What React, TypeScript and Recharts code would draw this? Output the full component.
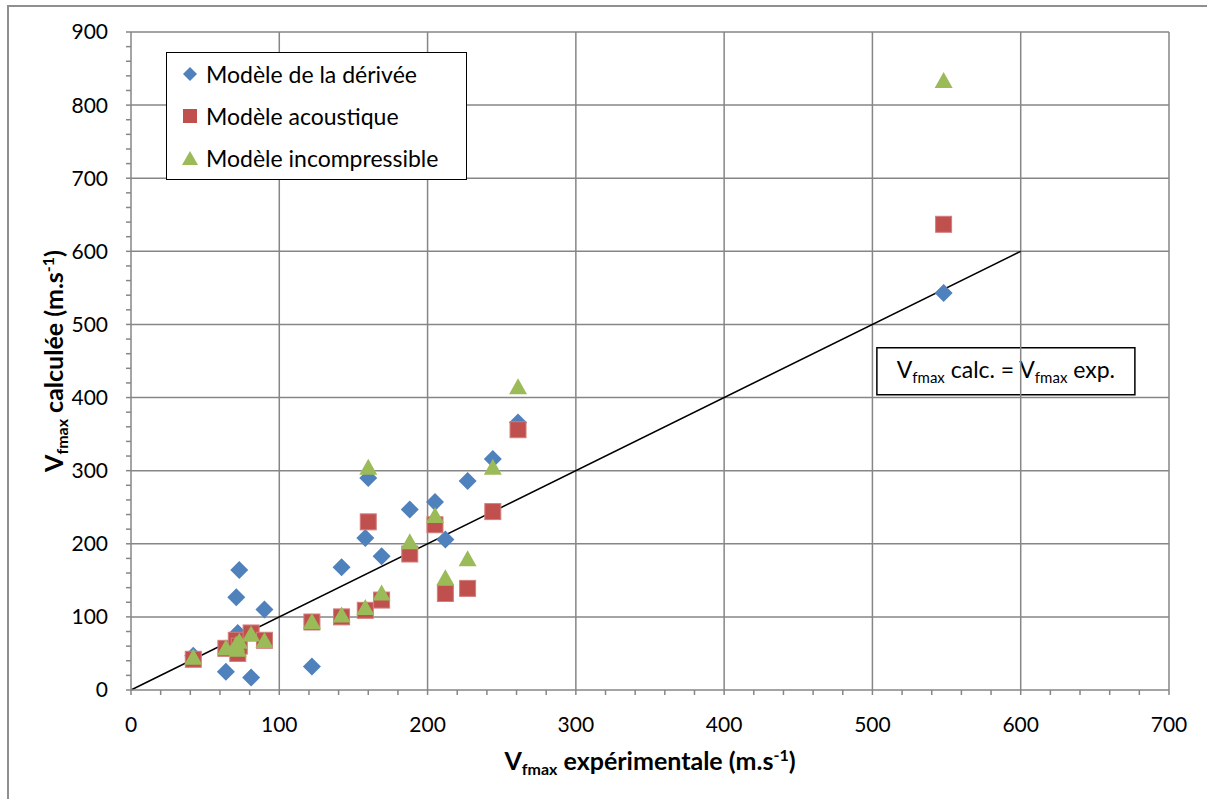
import React from 'react';
import {
  ScatterChart, Scatter, XAxis, YAxis, ReferenceLine, ReferenceArea, Legend, Label,
} from 'recharts';

// valeurs
const vExp = [42, 64, 71, 72, 73, 81, 90, 122, 142, 158, 160, 169, 188, 205, 212, 227, 244, 261, 548];
const vDerivee = [47, 25, 127, 78, 164, 17, 110, 32, 168, 208, 290, 183, 247, 257, 206, 286, 316, 366, 543];
const vAcoustique = [42, 57, 68, 50, 60, 78, 68, 93, 100, 109, 230, 123, 186, 226, 132, 139, 244, 356, 637];
const vIncompressible = [44, 57, 62, 55, 66, 76, 67, 93, 102, 112, 304, 132, 202, 238, 153, 179, 304, 414, 833];

const xMajor = [100, 200, 300, 400, 500, 600, 700];
const yMajor = [100, 200, 300, 400, 500, 600, 700, 800, 900];
const xTicks = Array.from({ length: 36 }, (_, i) => i * 20);
const yTicks = Array.from({ length: 46 }, (_, i) => i * 20);

const seriesNames = ['Modèle de la dérivée', 'Modèle acoustique', 'Modèle incompressible'];

const BLUE = '#4F81BD';
const RED = '#C0504D';
const GREEN = '#9BBB59';
const GRID = '#868686';
const FONT = 'Lato, "Liberation Sans", sans-serif';

const toPoints = (ys: number[]) => vExp.map((x, i) => ({ x, y: ys[i] }));

const Diamond = (p: any) => (
  <polygon
    points={`${p.cx},${p.cy - 9} ${p.cx + 9},${p.cy} ${p.cx},${p.cy + 9} ${p.cx - 9},${p.cy}`}
    fill={BLUE}
  />
);
const Square = (p: any) => (
  <rect x={p.cx - 8} y={p.cy - 8} width={16} height={16} fill={RED} stroke="#D27E7C" strokeWidth={1} />
);
const Triangle = (p: any) => (
  <polygon
    points={`${p.cx},${p.cy - 9} ${p.cx + 9},${p.cy + 7} ${p.cx - 9},${p.cy + 7}`}
    fill={GREEN}
  />
);

const LegendBox = () => {
  const icons = [
    <polygon key="d" points="8,1 15,8 8,15 1,8" fill={BLUE} />,
    <rect key="s" x={1} y={1} width={14} height={14} fill={RED} />,
    <polygon key="t" points="8,1 16,15 0,15" fill={GREEN} />,
  ];
  return (
    <div
      style={{
        width: 301, height: 128, boxSizing: 'border-box', border: '1px solid #000', background: '#fff',
        paddingTop: 0, fontFamily: FONT, fontSize: 23, color: '#000',
      }}
    >
      {seriesNames.map((n, i) => (
        <div key={n} style={{ height: 42, display: 'flex', alignItems: 'center' }}>
          <svg width={16} height={16} style={{ marginLeft: 15, marginRight: 8 }}>{icons[i]}</svg>
          <span>{n}</span>
        </div>
      ))}
    </div>
  );
};

const XTitle = ({ viewBox }: any) => {
  const cx = viewBox.x + viewBox.width / 2;
  return (
    <text x={cx} y={viewBox.y + 80} textAnchor="middle" fontFamily={FONT} fontWeight="bold" fontSize={25} fill="#000">
      <tspan>V</tspan>
      <tspan fontSize={16} dy={5}>fmax</tspan>
      <tspan dy={-5}> expérimentale (m.s</tspan>
      <tspan fontSize={16} dy={-9}>-1</tspan>
      <tspan dy={9}>)</tspan>
    </text>
  );
};

const YTitle = () => {
  const x = 63;
  const y = 361;
  return (
    <text x={x} y={y} transform={`rotate(-90, ${x}, ${y})`} textAnchor="middle" fontFamily={FONT}
      fontWeight="bold" fontSize={25} fill="#000">
      <tspan>V</tspan>
      <tspan fontSize={16} dy={5}>fmax</tspan>
      <tspan dy={-5}> calculée (m.s</tspan>
      <tspan fontSize={16} dy={-9}>-1</tspan>
      <tspan dy={9}>)</tspan>
    </text>
  );
};

const BoxText = ({ viewBox }: any) => {
  const cx = viewBox.x + viewBox.width / 2;
  const cy = viewBox.y + viewBox.height / 2;
  return (
    <text x={cx} y={cy + 7} textAnchor="middle" fontFamily={FONT} fontSize={23} fill="#000">
      <tspan>V</tspan>
      <tspan fontSize={15} dy={5}>fmax</tspan>
      <tspan dy={-5}> calc. = V</tspan>
      <tspan fontSize={15} dy={5}>fmax</tspan>
      <tspan dy={-5}> exp.</tspan>
    </text>
  );
};

export default function App() {
  const tickStyle = { fill: '#000', fontSize: 21, fontFamily: FONT };
  return (
    <div style={{ position: 'absolute', left: 0, top: 0, width: 1207, height: 799, overflow: 'hidden', background: '#fff' }}>
      <div style={{ position: 'absolute', left: 7, top: 5, width: 1400, height: 1000, border: '2px solid #8f8f8f' }} />
      <ScatterChart width={1207} height={799} margin={{ top: 32, right: 38, bottom: 0, left: 0 }}>
        {/* grille principale */}
        {xMajor.map((v) => (
          <ReferenceLine key={`gx${v}`} x={v} stroke={GRID} strokeWidth={1.5} />
        ))}
        {yMajor.map((v) => (
          <ReferenceLine key={`gy${v}`} y={v} stroke={GRID} strokeWidth={1.5} />
        ))}
        <XAxis
          type="number" dataKey="x" domain={[0, 700]} ticks={xTicks} interval={0} height={109}
          tickFormatter={(v: number) => (v % 100 === 0 ? String(v) : '')}
          tick={tickStyle} tickSize={5} tickMargin={22}
          axisLine={{ stroke: GRID, strokeWidth: 1.5 }} tickLine={{ stroke: GRID, strokeWidth: 1.5 }}
          label={<Label content={XTitle} />}
        />
        <YAxis
          type="number" dataKey="y" domain={[0, 900]} ticks={yTicks} interval={0} width={131}
          tickFormatter={(v: number) => (v % 100 === 0 ? String(v) : '')}
          tick={tickStyle} tickSize={5} tickMargin={18}
          axisLine={{ stroke: GRID, strokeWidth: 1.5 }} tickLine={{ stroke: GRID, strokeWidth: 1.5 }}
          label={<Label content={YTitle} />}
        />
        <ReferenceArea x1={503} x2={677} y1={404} y2={468} fill="#fff" fillOpacity={1} stroke="#000" strokeWidth={1.5}
          label={<Label content={BoxText} />} />
        <Scatter name={seriesNames[0]} data={toPoints(vDerivee)} shape={Diamond} isAnimationActive={false} />
        <Scatter name={seriesNames[1]} data={toPoints(vAcoustique)} shape={Square} isAnimationActive={false} />
        <Scatter name={seriesNames[2]} data={toPoints(vIncompressible)} shape={Triangle} isAnimationActive={false} />
        <ReferenceLine segment={[{ x: 0, y: 0 }, { x: 600, y: 600 }]} stroke="#000" strokeWidth={1.5} />
        <Legend
          layout="vertical" align="center" verticalAlign="middle"
          wrapperStyle={{ position: 'absolute', left: 166, top: 52, width: 301, height: 128 }}
          content={LegendBox}
        />
      </ScatterChart>
    </div>
  );
}
